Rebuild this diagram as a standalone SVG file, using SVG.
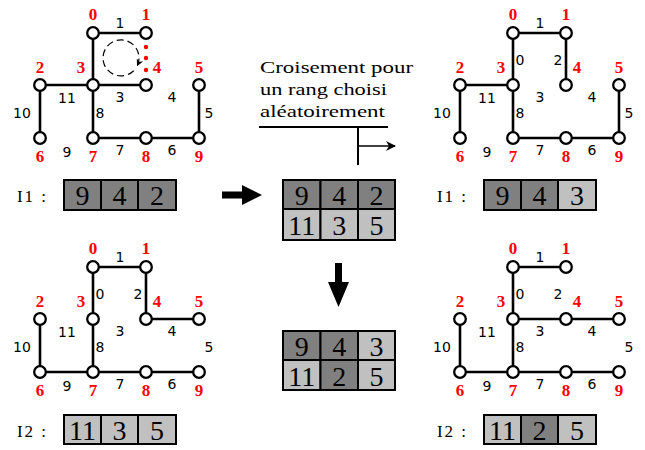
<svg xmlns="http://www.w3.org/2000/svg" width="645" height="450" viewBox="0 0 645 450">
<defs>
<style>
.e{stroke:#000;stroke-width:2.6;fill:none;stroke-linecap:round}
.n{fill:#fff;stroke:#000;stroke-width:2.3}
.rl{font-family:"Liberation Serif",serif;font-weight:bold;font-size:17px;fill:#f00;text-anchor:middle}
.el{font-family:"DejaVu Sans",sans-serif;font-size:14px;fill:#000;text-anchor:middle;dominant-baseline:central}
.dk{fill:#808080;stroke:#000;stroke-width:2}
.lt{fill:#c0c0c0;stroke:#000;stroke-width:2}
.bd{font-family:"Liberation Serif",serif;font-size:28px;text-anchor:middle;fill:#000}
.lab{font-family:"Liberation Serif",serif;font-size:17px;fill:#000}
.big{fill:#000;stroke:none}
</style>
<marker id="ah" viewBox="0 0 10 10" refX="9" refY="5" markerWidth="7" markerHeight="7" markerUnits="userSpaceOnUse" orient="auto"><path d="M0,0 L10,5 L0,10 L3,5 Z" fill="#000"/></marker>
<marker id="ahb" viewBox="0 0 10 10" refX="9" refY="5" markerWidth="10" markerHeight="10" markerUnits="userSpaceOnUse" orient="auto"><path d="M0,0 L10,5 L0,10 L3,5 Z" fill="#000"/></marker>
<marker id="ahr" viewBox="0 0 10 10" refX="9" refY="5" markerWidth="9" markerHeight="9" markerUnits="userSpaceOnUse" orient="auto"><path d="M0,0 L10,5 L0,10 L3,5 Z" fill="#e00"/></marker>
</defs>
<rect width="645" height="450" fill="#fff"/>

<!-- connectors -->
<g id="connectors">
  <!-- top-left graph -->
  <g>
    <line class="e" x1="93" y1="33" x2="146" y2="33"/>
    <line class="e" x1="93" y1="33" x2="93" y2="85"/>
    <line class="e" x1="40" y1="85" x2="93" y2="85"/>
    <line class="e" x1="93" y1="85" x2="146" y2="85"/>
    <line class="e" x1="40" y1="85" x2="40" y2="138"/>
    <line class="e" x1="93" y1="85" x2="93" y2="138"/>
    <line class="e" x1="93" y1="138" x2="146" y2="138"/>
    <line class="e" x1="146" y1="138" x2="199" y2="138"/>
    <line class="e" x1="199" y1="85" x2="199" y2="138"/>
  </g>
  <!-- top-right graph -->
  <g transform="translate(420,0)">
    <line class="e" x1="93" y1="33" x2="146" y2="33"/>
    <line class="e" x1="93" y1="33" x2="93" y2="85"/>
    <line class="e" x1="146" y1="33" x2="146" y2="85"/>
    <line class="e" x1="40" y1="85" x2="93" y2="85"/>
    <line class="e" x1="40" y1="85" x2="40" y2="138"/>
    <line class="e" x1="93" y1="85" x2="93" y2="138"/>
    <line class="e" x1="93" y1="138" x2="146" y2="138"/>
    <line class="e" x1="146" y1="138" x2="199" y2="138"/>
    <line class="e" x1="199" y1="85" x2="199" y2="138"/>
  </g>
  <!-- bottom-left graph -->
  <g transform="translate(0,234)">
    <line class="e" x1="93" y1="33" x2="146" y2="33"/>
    <line class="e" x1="93" y1="33" x2="93" y2="85"/>
    <line class="e" x1="146" y1="33" x2="146" y2="85"/>
    <line class="e" x1="146" y1="85" x2="199" y2="85"/>
    <line class="e" x1="40" y1="85" x2="40" y2="138"/>
    <line class="e" x1="93" y1="85" x2="93" y2="138"/>
    <line class="e" x1="40" y1="138" x2="93" y2="138"/>
    <line class="e" x1="93" y1="138" x2="146" y2="138"/>
    <line class="e" x1="146" y1="138" x2="199" y2="138"/>
  </g>
  <!-- bottom-right graph -->
  <g transform="translate(420,234)">
    <line class="e" x1="93" y1="33" x2="146" y2="33"/>
    <line class="e" x1="93" y1="33" x2="93" y2="85"/>
    <line class="e" x1="93" y1="85" x2="146" y2="85"/>
    <line class="e" x1="146" y1="85" x2="199" y2="85"/>
    <line class="e" x1="40" y1="85" x2="40" y2="138"/>
    <line class="e" x1="93" y1="85" x2="93" y2="138"/>
    <line class="e" x1="40" y1="138" x2="93" y2="138"/>
    <line class="e" x1="93" y1="138" x2="146" y2="138"/>
    <line class="e" x1="146" y1="138" x2="199" y2="138"/>
  </g>
  <!-- dashed rotation arrow -->
  <path d="M133.7,70.7 A18,18 0 1 1 137.3,65.6" fill="none" stroke="#000" stroke-width="1.2" stroke-dasharray="7,4" marker-end="url(#ah)"/>
  <!-- red dots -->
  <g fill="#f00">
    <circle cx="146" cy="47" r="2.2"/>
    <circle cx="146" cy="58" r="2.2"/>
    <circle cx="146" cy="70" r="2.2"/>
  </g>
  <!-- crossover annotation -->
  <line x1="259" y1="127" x2="388" y2="127" stroke="#000" stroke-width="2"/>
  <line x1="358" y1="127" x2="358" y2="165" stroke="#000" stroke-width="2"/>
  <line x1="358" y1="146" x2="395" y2="146" stroke="#000" stroke-width="1.6" marker-end="url(#ahb)"/>
  <!-- big arrows -->
  <path class="big" d="M222,191.5 L242,191.5 L242,185 L262,195 L242,205 L242,198.5 L222,198.5 Z"/>
  <path class="big" d="M335,263 L342,263 L342,282 L349,282 L338.5,307 L328,282 L335,282 Z"/>
  <!-- red selection -->
  <circle cx="376" cy="195" r="13" fill="none" stroke="#e00" stroke-width="2.4"/>
  <line x1="367" y1="208" x2="350" y2="227" stroke="#e00" stroke-width="2" marker-end="url(#ahr)"/>
</g>

<!-- nodes top-left -->
<g id="tl">
  <g id="tl-n0"><circle class="n" cx="93" cy="33" r="5.8"/><text class="rl" x="93" y="20">0</text></g>
  <g id="tl-n1"><circle class="n" cx="146" cy="33" r="5.8"/><text class="rl" x="146" y="20">1</text></g>
  <g id="tl-n2"><circle class="n" cx="40" cy="85" r="5.8"/><text class="rl" x="40" y="73">2</text></g>
  <g id="tl-n3"><circle class="n" cx="93" cy="85" r="5.8"/><text class="rl" x="81" y="73">3</text></g>
  <g id="tl-n4"><circle class="n" cx="146" cy="85" r="5.8"/><text class="rl" x="157" y="73">4</text></g>
  <g id="tl-n5"><circle class="n" cx="199" cy="85" r="5.8"/><text class="rl" x="199" y="73">5</text></g>
  <g id="tl-n6"><circle class="n" cx="40" cy="138" r="5.8"/><text class="rl" x="40" y="162">6</text></g>
  <g id="tl-n7"><circle class="n" cx="93" cy="138" r="5.8"/><text class="rl" x="93" y="162">7</text></g>
  <g id="tl-n8"><circle class="n" cx="146" cy="138" r="5.8"/><text class="rl" x="146" y="162">8</text></g>
  <g id="tl-n9"><circle class="n" cx="199" cy="138" r="5.8"/><text class="rl" x="199" y="162">9</text></g>
  <g id="tl-labels">
    <text class="el" x="120" y="23">1</text>
    <text class="el" x="120" y="97">3</text>
    <text class="el" x="172" y="97">4</text>
    <text class="el" x="209" y="113">5</text>
    <text class="el" x="172" y="150">6</text>
    <text class="el" x="120" y="150">7</text>
    <text class="el" x="100" y="113">8</text>
    <text class="el" x="67" y="152">9</text>
    <text class="el" x="22" y="113">10</text>
    <text class="el" x="67" y="98">11</text>
  </g>
</g>

<!-- nodes top-right -->
<g id="tr" transform="translate(420,0)">
  <g id="tr-n0"><circle class="n" cx="93" cy="33" r="5.8"/><text class="rl" x="93" y="20">0</text></g>
  <g id="tr-n1"><circle class="n" cx="146" cy="33" r="5.8"/><text class="rl" x="146" y="20">1</text></g>
  <g id="tr-n2"><circle class="n" cx="40" cy="85" r="5.8"/><text class="rl" x="40" y="73">2</text></g>
  <g id="tr-n3"><circle class="n" cx="93" cy="85" r="5.8"/><text class="rl" x="81" y="73">3</text></g>
  <g id="tr-n4"><circle class="n" cx="146" cy="85" r="5.8"/><text class="rl" x="157" y="73">4</text></g>
  <g id="tr-n5"><circle class="n" cx="199" cy="85" r="5.8"/><text class="rl" x="199" y="73">5</text></g>
  <g id="tr-n6"><circle class="n" cx="40" cy="138" r="5.8"/><text class="rl" x="40" y="162">6</text></g>
  <g id="tr-n7"><circle class="n" cx="93" cy="138" r="5.8"/><text class="rl" x="93" y="162">7</text></g>
  <g id="tr-n8"><circle class="n" cx="146" cy="138" r="5.8"/><text class="rl" x="146" y="162">8</text></g>
  <g id="tr-n9"><circle class="n" cx="199" cy="138" r="5.8"/><text class="rl" x="199" y="162">9</text></g>
  <g id="tr-labels">
    <text class="el" x="100" y="60">0</text>
    <text class="el" x="120" y="23">1</text>
    <text class="el" x="138" y="60">2</text>
    <text class="el" x="120" y="97">3</text>
    <text class="el" x="172" y="97">4</text>
    <text class="el" x="209" y="113">5</text>
    <text class="el" x="172" y="150">6</text>
    <text class="el" x="120" y="150">7</text>
    <text class="el" x="100" y="113">8</text>
    <text class="el" x="67" y="152">9</text>
    <text class="el" x="22" y="113">10</text>
    <text class="el" x="67" y="98">11</text>
  </g>
</g>

<!-- nodes bottom-left -->
<g id="bl" transform="translate(0,234)">
  <g id="bl-n0"><circle class="n" cx="93" cy="33" r="5.8"/><text class="rl" x="93" y="20">0</text></g>
  <g id="bl-n1"><circle class="n" cx="146" cy="33" r="5.8"/><text class="rl" x="146" y="20">1</text></g>
  <g id="bl-n2"><circle class="n" cx="40" cy="85" r="5.8"/><text class="rl" x="40" y="73">2</text></g>
  <g id="bl-n3"><circle class="n" cx="93" cy="85" r="5.8"/><text class="rl" x="81" y="73">3</text></g>
  <g id="bl-n4"><circle class="n" cx="146" cy="85" r="5.8"/><text class="rl" x="157" y="73">4</text></g>
  <g id="bl-n5"><circle class="n" cx="199" cy="85" r="5.8"/><text class="rl" x="199" y="73">5</text></g>
  <g id="bl-n6"><circle class="n" cx="40" cy="138" r="5.8"/><text class="rl" x="40" y="162">6</text></g>
  <g id="bl-n7"><circle class="n" cx="93" cy="138" r="5.8"/><text class="rl" x="93" y="162">7</text></g>
  <g id="bl-n8"><circle class="n" cx="146" cy="138" r="5.8"/><text class="rl" x="146" y="162">8</text></g>
  <g id="bl-n9"><circle class="n" cx="199" cy="138" r="5.8"/><text class="rl" x="199" y="162">9</text></g>
  <g id="bl-labels">
    <text class="el" x="100" y="60">0</text>
    <text class="el" x="120" y="23">1</text>
    <text class="el" x="138" y="60">2</text>
    <text class="el" x="120" y="97">3</text>
    <text class="el" x="172" y="97">4</text>
    <text class="el" x="209" y="113">5</text>
    <text class="el" x="172" y="150">6</text>
    <text class="el" x="120" y="150">7</text>
    <text class="el" x="100" y="113">8</text>
    <text class="el" x="67" y="152">9</text>
    <text class="el" x="22" y="113">10</text>
    <text class="el" x="67" y="98">11</text>
  </g>
</g>

<!-- nodes bottom-right -->
<g id="br" transform="translate(420,234)">
  <g id="br-n0"><circle class="n" cx="93" cy="33" r="5.8"/><text class="rl" x="93" y="20">0</text></g>
  <g id="br-n1"><circle class="n" cx="146" cy="33" r="5.8"/><text class="rl" x="146" y="20">1</text></g>
  <g id="br-n2"><circle class="n" cx="40" cy="85" r="5.8"/><text class="rl" x="40" y="73">2</text></g>
  <g id="br-n3"><circle class="n" cx="93" cy="85" r="5.8"/><text class="rl" x="81" y="73">3</text></g>
  <g id="br-n4"><circle class="n" cx="146" cy="85" r="5.8"/><text class="rl" x="157" y="73">4</text></g>
  <g id="br-n5"><circle class="n" cx="199" cy="85" r="5.8"/><text class="rl" x="199" y="73">5</text></g>
  <g id="br-n6"><circle class="n" cx="40" cy="138" r="5.8"/><text class="rl" x="40" y="162">6</text></g>
  <g id="br-n7"><circle class="n" cx="93" cy="138" r="5.8"/><text class="rl" x="93" y="162">7</text></g>
  <g id="br-n8"><circle class="n" cx="146" cy="138" r="5.8"/><text class="rl" x="146" y="162">8</text></g>
  <g id="br-n9"><circle class="n" cx="199" cy="138" r="5.8"/><text class="rl" x="199" y="162">9</text></g>
  <g id="br-labels">
    <text class="el" x="100" y="60">0</text>
    <text class="el" x="120" y="23">1</text>
    <text class="el" x="138" y="60">2</text>
    <text class="el" x="120" y="97">3</text>
    <text class="el" x="172" y="97">4</text>
    <text class="el" x="209" y="113">5</text>
    <text class="el" x="172" y="150">6</text>
    <text class="el" x="120" y="150">7</text>
    <text class="el" x="100" y="113">8</text>
    <text class="el" x="67" y="152">9</text>
    <text class="el" x="22" y="113">10</text>
    <text class="el" x="67" y="98">11</text>
  </g>
</g>

<!-- annotation text -->
<g id="note">
  <text class="lab" x="260" y="73" textLength="153" lengthAdjust="spacingAndGlyphs">Croisement pour</text>
  <text class="lab" x="260" y="95" textLength="127" lengthAdjust="spacingAndGlyphs">un rang choisi</text>
  <text class="lab" x="260" y="117" textLength="125" lengthAdjust="spacingAndGlyphs">aléatoirement</text>
</g>

<!-- chromosome I1 left -->
<g id="i1-left">
  <text class="lab" x="17" y="202" textLength="29" lengthAdjust="spacing">I1 :</text>
  <rect class="dk" x="64" y="180" width="37" height="30"/>
  <rect class="dk" x="101" y="180" width="37" height="30"/>
  <rect class="dk" x="138" y="180" width="38" height="30"/>
  <text class="bd" x="82.5" y="205">9</text>
  <text class="bd" x="119.5" y="205">4</text>
  <text class="bd" x="157" y="205">2</text>
</g>

<!-- chromosome I2 left -->
<g id="i2-left">
  <text class="lab" x="17" y="437" textLength="29" lengthAdjust="spacing">I2 :</text>
  <rect class="lt" x="64" y="415" width="37" height="29"/>
  <rect class="lt" x="101" y="415" width="37" height="29"/>
  <rect class="lt" x="138" y="415" width="38" height="29"/>
  <text class="bd" x="82.5" y="440">11</text>
  <text class="bd" x="119.5" y="440">3</text>
  <text class="bd" x="157" y="440">5</text>
</g>

<!-- middle crossover block -->
<g id="cross-before">
  <rect class="dk" x="283" y="180" width="37.5" height="29"/>
  <rect class="dk" x="320.5" y="180" width="37.5" height="29"/>
  <rect class="dk" x="358" y="180" width="37" height="29"/>
  <rect class="lt" x="283" y="209" width="37.5" height="31"/>
  <rect class="lt" x="320.5" y="209" width="37.5" height="31"/>
  <rect class="lt" x="358" y="209" width="37" height="31"/>
  <text class="bd" x="301.7" y="205">9</text>
  <text class="bd" x="339.2" y="205">4</text>
  <text class="bd" x="376.5" y="205">2</text>
  <text class="bd" x="301.7" y="235">11</text>
  <text class="bd" x="339.2" y="235">3</text>
  <text class="bd" x="376.5" y="235">5</text>
</g>

<g id="cross-after">
  <rect class="dk" x="283" y="331" width="37.5" height="29"/>
  <rect class="dk" x="320.5" y="331" width="37.5" height="29"/>
  <rect class="lt" x="358" y="331" width="37" height="29"/>
  <rect class="lt" x="283" y="360" width="37.5" height="30"/>
  <rect class="dk" x="320.5" y="360" width="37.5" height="30"/>
  <rect class="lt" x="358" y="360" width="37" height="30"/>
  <text class="bd" x="301.7" y="356">9</text>
  <text class="bd" x="339.2" y="356">4</text>
  <text class="bd" x="376.5" y="356">3</text>
  <text class="bd" x="301.7" y="386">11</text>
  <text class="bd" x="339.2" y="386">2</text>
  <text class="bd" x="376.5" y="386">5</text>
</g>

<!-- chromosome I1 right -->
<g id="i1-right">
  <text class="lab" x="437" y="202" textLength="29" lengthAdjust="spacing">I1 :</text>
  <rect class="dk" x="484" y="180" width="37" height="30"/>
  <rect class="dk" x="521" y="180" width="37" height="30"/>
  <rect class="lt" x="558" y="180" width="38" height="30"/>
  <text class="bd" x="502.5" y="205">9</text>
  <text class="bd" x="539.5" y="205">4</text>
  <text class="bd" x="577" y="205">3</text>
</g>

<!-- chromosome I2 right -->
<g id="i2-right">
  <text class="lab" x="437" y="437" textLength="29" lengthAdjust="spacing">I2 :</text>
  <rect class="lt" x="484" y="415" width="37" height="29"/>
  <rect class="dk" x="521" y="415" width="37" height="29"/>
  <rect class="lt" x="558" y="415" width="38" height="29"/>
  <text class="bd" x="502.5" y="440">11</text>
  <text class="bd" x="539.5" y="440">2</text>
  <text class="bd" x="577" y="440">5</text>
</g>
</svg>
